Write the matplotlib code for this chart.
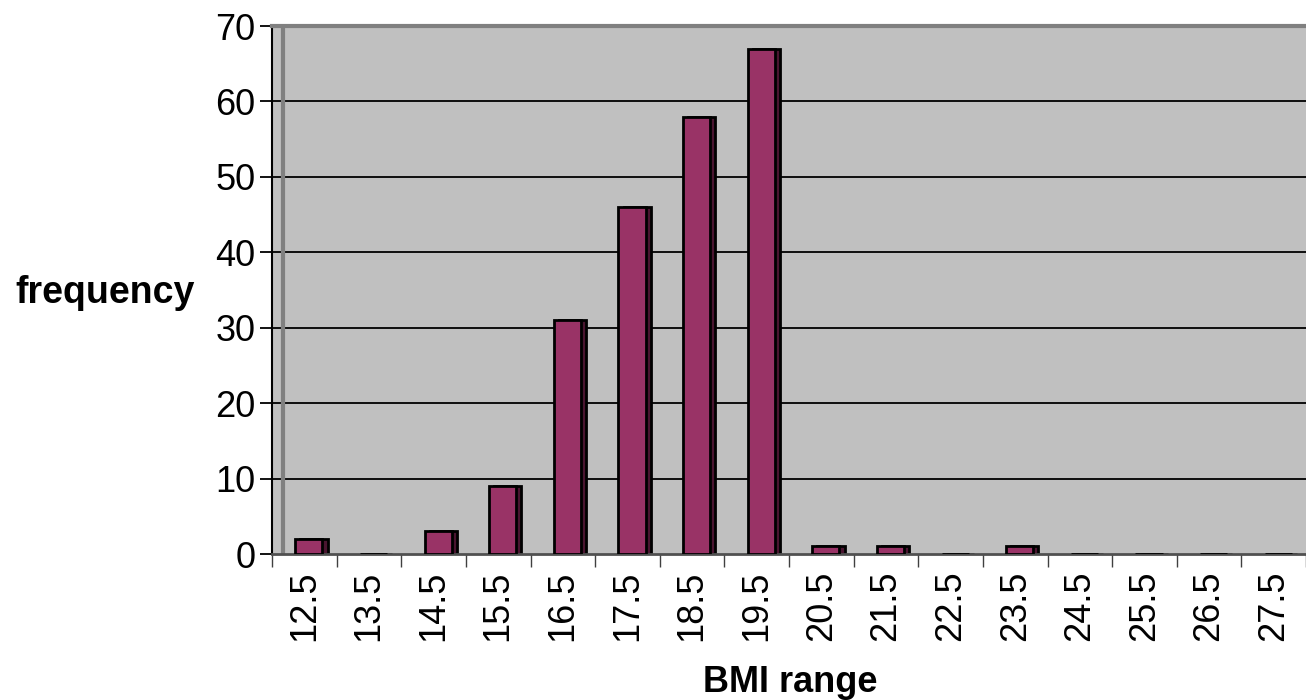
import matplotlib
matplotlib.use("Agg")
import matplotlib.pyplot as plt
import numpy as np

categories = ["12.5", "13.5", "14.5", "15.5", "16.5", "17.5", "18.5", "19.5",
              "20.5", "21.5", "22.5", "23.5", "24.5", "25.5", "26.5", "27.5"]
frequency = [2, 0, 3, 9, 31, 46, 58, 67, 1, 1, 0, 1, 0, 0, 0, 0]

plt.rcParams['font.family'] = ['Liberation Sans', 'DejaVu Sans']

fig = plt.figure(figsize=(13.06, 7.0), dpi=100)
ax = fig.add_axes([272/1306, 146/700, 1 - 272/1306, (554-26)/700])
ax.set_facecolor('#C0C0C0')

x = np.arange(len(categories))
front_w = 0.42
side_w = 0.08
left_off = -0.14

ax.set_xlim(-0.5, len(categories) - 0.5)
ax.set_ylim(0, 70)

# gridlines
for yv in range(10, 70, 10):
    ax.axhline(yv, color='black', lw=1.3, zorder=1)

# back wall edge
ax.axvline(-0.5 + 11/64.6, color='#808080', lw=3, zorder=1)

ax.bar(x + left_off + side_w, frequency, width=front_w, align='edge',
       color='#4A1530', edgecolor='black', lw=2, zorder=2)
ax.bar(x + left_off, frequency, width=front_w, align='edge',
       color='#993366', edgecolor='black', lw=2, zorder=3)

ax.spines['right'].set_visible(False)
ax.spines['top'].set_color('#808080')
ax.spines['top'].set_linewidth(3)
ax.spines['bottom'].set_color('#505050')
ax.spines['bottom'].set_linewidth(2)
ax.spines['left'].set_color('black')
ax.spines['left'].set_linewidth(1.5)

ax.set_yticks(range(0, 71, 10))
ax.tick_params(axis='y', labelsize=26, length=9, width=1.3, color='black', pad=3)

ax.set_xticks(np.arange(-0.5, len(categories), 1.0))
ax.set_xticklabels([])
ax.tick_params(axis='x', which='major', length=9, width=1, color='#404040')
ax.set_xticks(x, minor=True)
ax.set_xticklabels(categories, minor=True, rotation=90, fontsize=26)
ax.tick_params(axis='x', which='minor', length=0, pad=12)

fig.text(15/1306, 1 - 293/700, 'frequency', fontsize=27, fontweight='bold',
         ha='left', va='center')
fig.text(790/1306, 1 - 682/700, 'BMI range', fontsize=26, fontweight='bold',
         ha='center', va='center')

fig.savefig('out.png', dpi=100)
